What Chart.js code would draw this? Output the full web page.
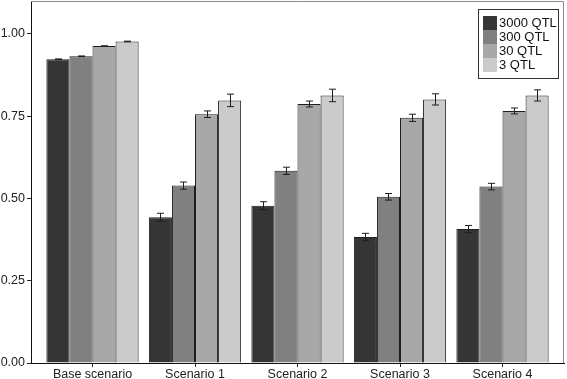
<!DOCTYPE html>
<html>
<head>
<meta charset="utf-8">
<script src="https://cdn.jsdelivr.net/npm/chart.js@4.4.1/dist/chart.umd.min.js"></script>
<style>
  html, body { margin: 0; padding: 0; background: #fff; }
  #wrap { width: 567px; height: 379px; position: relative; }
</style>
</head>
<body>
<div id="wrap"><canvas id="qtlChart"></canvas></div>
<script>
const categories = ['Base scenario', 'Scenario 1', 'Scenario 2', 'Scenario 3', 'Scenario 4'];
const seriesNames = ['3000 QTL', '300 QTL', '30 QTL', '3 QTL'];
const seriesColors = ['#353535', '#808080', '#a8a8a8', '#cbcbcb'];

// mean accuracy per scenario
const qtl3000 = [0.923, 0.443, 0.478, 0.383, 0.407];
const qtl300  = [0.932, 0.539, 0.584, 0.505, 0.536];
const qtl30   = [0.963, 0.756, 0.787, 0.745, 0.766];
const qtl3    = [0.977, 0.798, 0.813, 0.801, 0.813];

// half-width of the error bars
const err3000 = [0.001, 0.012, 0.012, 0.011, 0.011];
const err300  = [0.001, 0.011, 0.011, 0.010, 0.010];
const err30   = [0.001, 0.010, 0.009, 0.011, 0.009];
const err3    = [0.001, 0.019, 0.019, 0.017, 0.017];

const yTicks = [0, 0.25, 0.5, 0.75, 1.0];

const means = [qtl3000, qtl300, qtl30, qtl3];
const errors = [err3000, err300, err30, err3];

const datasets = seriesNames.map((name, i) => ({
    label: name,
    data: means[i].map((v, j) => ({ x: j + 1, y: v })),
    errors: errors[i],
    backgroundColor: seriesColors[i],
    borderColor: '#1e1e1e',
    borderWidth: 1,
    categoryPercentage: 0.9,
    barPercentage: 1.0
}));

// draws error bars on top of each bar
const errorBars = {
    id: 'errorBars',
    afterDatasetsDraw(chart) {
        const ctx = chart.ctx;
        const yScale = chart.scales.y;
        ctx.save();
        ctx.strokeStyle = '#1e1e1e';
        ctx.lineWidth = 1;
        chart.data.datasets.forEach((ds, i) => {
            const meta = chart.getDatasetMeta(i);
            meta.data.forEach((bar, j) => {
                const v = ds.data[j].y;
                const e = ds.errors[j];
                const top = yScale.getPixelForValue(v + e);
                const bot = yScale.getPixelForValue(v - e);
                const x = Math.round(bar.x) + 0.5;
                ctx.beginPath();
                ctx.moveTo(x, top); ctx.lineTo(x, bot);
                ctx.moveTo(x - 3.5, top); ctx.lineTo(x + 3.5, top);
                ctx.moveTo(x - 3.5, bot); ctx.lineTo(x + 3.5, bot);
                ctx.stroke();
            });
        });
        ctx.restore();
    }
};

// gray panel frame plus the legend box inside the plot
const frameLegend = {
    id: 'frameLegend',
    afterDraw(chart) {
        const ctx = chart.ctx;
        const a = chart.chartArea;
        ctx.save();
        ctx.strokeStyle = '#8a8a8a';
        ctx.lineWidth = 1;
        ctx.beginPath();
        ctx.moveTo(a.left, a.top + 0.5); ctx.lineTo(a.right - 0.5, a.top + 0.5);
        ctx.lineTo(a.right - 0.5, a.bottom);
        ctx.stroke();

        const boxX = a.right - 86, boxY = a.top + 8;
        const rowH = 14;
        const n = chart.data.datasets.length;
        ctx.strokeStyle = '#333';
        ctx.strokeRect(boxX + 0.5, boxY + 0.5, 80, rowH * n + 13);
        ctx.font = '13px "Liberation Sans", Arial, sans-serif';
        ctx.textBaseline = 'middle';
        chart.data.datasets.forEach((ds, i) => {
            const y = boxY + 7 + i * rowH;
            ctx.fillStyle = ds.backgroundColor;
            ctx.fillRect(boxX + 5, y, 14, rowH);
            ctx.fillStyle = '#111';
            ctx.fillText(ds.label, boxX + 21, y + rowH / 2 + 0.5);
        });
        ctx.restore();
    }
};

function noPad(scale) {
    scale.paddingTop = 0;
    scale.paddingBottom = 0;
    scale.paddingLeft = 0;
    scale.paddingRight = 0;
}

const ctx = document.getElementById('qtlChart').getContext('2d');
const chart = new Chart(ctx, {
    type: 'bar',
    data: { datasets: datasets },
    options: {
        responsive: true,
        maintainAspectRatio: false,
        animation: false,
        layout: { padding: { top: 1, right: 3, left: 0, bottom: 0 } },
        plugins: { legend: { display: false }, tooltip: { enabled: false } },
        scales: {
            x: {
                type: 'linear',
                min: 0.4,
                max: 5.6,
                offset: false,
                afterBuildTicks: scale => { scale.ticks = categories.map((c, i) => ({ value: i + 1 })); },
                afterFit: scale => { scale.height = 16; noPad(scale); },
                grid: { display: true, offset: false, drawOnChartArea: false, tickLength: 4, color: '#222' },
                border: { display: true, color: '#111', width: 1 },
                ticks: {
                    padding: 0,
                    color: '#222',
                    maxRotation: 0,
                    autoSkip: false,
                    font: { family: '"Liberation Sans", Arial, sans-serif', size: 12.5 },
                    callback: v => categories[v - 1]
                }
            },
            y: {
                min: 0,
                max: 1.1,
                afterBuildTicks: scale => { scale.ticks = yTicks.map(v => ({ value: v })); },
                afterFit: scale => { scale.width = 31; noPad(scale); },
                grid: { display: true, drawOnChartArea: false, tickLength: 4, color: '#222' },
                border: { display: true, color: '#111', width: 1 },
                ticks: {
                    padding: 2,
                    color: '#222',
                    font: { family: '"Liberation Sans", Arial, sans-serif', size: 12.5 },
                    callback: v => v.toFixed(2)
                }
            }
        }
    },
    plugins: [errorBars, frameLegend]
});
</script>
</body>
</html>
